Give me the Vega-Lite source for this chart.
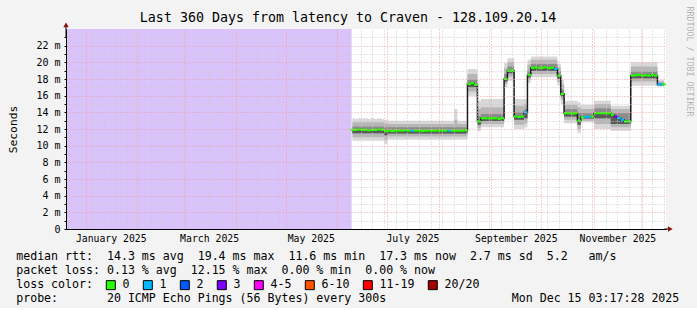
{
  "$schema": "https://vega.github.io/schema/vega-lite/v6.json",
  "width": 600,
  "height": 200,
  "padding": {"left": 7, "top": 5, "right": 3, "bottom": 3},
  "background": "#f3f3f3",
  "config": {"view": {"fill": "#ffffff", "stroke": null}, "font": "DejaVu Sans Mono"},
  "title": {"text": "Last 360 Days from latency to Craven - 128.109.20.14", "font": "DejaVu Sans Mono", "fontSize": 13.3, "fontWeight": "normal", "color": "#000000", "anchor": "middle", "frame": "group", "dx": -18, "offset": -18.5},
  "datasets": {
    "unknown": [{"start": "2024-12-20T03:17:28Z", "end": "2025-06-09T12:00:00Z"}],
    "smoke": [
      {"t": "2025-06-10", "m": 11.9, "l3": 10.6, "l2": 11.0, "l1": 11.5, "h1": 12.3, "h2": 12.8, "h3": 13.3, "loss": "0"},
      {"t": "2025-06-12", "m": 11.9, "l3": 10.6, "l2": 11.0, "l1": 11.5, "h1": 12.3, "h2": 12.8, "h3": 13.2, "loss": "0"},
      {"t": "2025-06-14", "m": 11.95, "l3": 10.6, "l2": 11.0, "l1": 11.5, "h1": 12.3, "h2": 12.8, "h3": 13.3, "loss": "0"},
      {"t": "2025-06-16", "m": 11.9, "l3": 10.6, "l2": 11.0, "l1": 11.5, "h1": 12.3, "h2": 12.8, "h3": 13.25, "loss": "0"},
      {"t": "2025-06-18", "m": 11.9, "l3": 10.6, "l2": 11.0, "l1": 11.5, "h1": 12.3, "h2": 12.8, "h3": 13.3, "loss": "0"},
      {"t": "2025-06-20", "m": 11.85, "l3": 10.6, "l2": 11.0, "l1": 11.5, "h1": 12.3, "h2": 12.8, "h3": 13.2, "loss": "0"},
      {"t": "2025-06-22", "m": 11.9, "l3": 10.6, "l2": 11.0, "l1": 11.5, "h1": 12.3, "h2": 12.8, "h3": 13.3, "loss": "0"},
      {"t": "2025-06-24", "m": 11.9, "l3": 10.6, "l2": 11.0, "l1": 11.5, "h1": 12.3, "h2": 12.8, "h3": 13.2, "loss": "0"},
      {"t": "2025-06-26", "m": 11.95, "l3": 10.6, "l2": 11.0, "l1": 11.5, "h1": 12.3, "h2": 12.8, "h3": 13.3, "loss": "0"},
      {"t": "2025-06-28", "m": 11.9, "l3": 10.6, "l2": 11.0, "l1": 11.5, "h1": 12.3, "h2": 12.8, "h3": 13.2, "loss": "0"},
      {"t": "2025-06-30", "m": 11.75, "l3": 10.2, "l2": 10.7, "l1": 11.25, "h1": 12.2, "h2": 12.7, "h3": 13.1, "loss": "0"},
      {"t": "2025-07-02", "m": 11.8, "l3": 10.7, "l2": 11.1, "l1": 11.45, "h1": 12.2, "h2": 12.6, "h3": 13.0, "loss": "0"},
      {"t": "2025-07-04", "m": 11.75, "l3": 10.7, "l2": 11.1, "l1": 11.45, "h1": 12.2, "h2": 12.6, "h3": 13.0, "loss": "0"},
      {"t": "2025-07-06", "m": 11.8, "l3": 10.7, "l2": 11.1, "l1": 11.45, "h1": 12.2, "h2": 12.6, "h3": 13.0, "loss": "0"},
      {"t": "2025-07-08", "m": 11.8, "l3": 10.7, "l2": 11.1, "l1": 11.45, "h1": 12.2, "h2": 12.6, "h3": 13.0, "loss": "0"},
      {"t": "2025-07-10", "m": 11.8, "l3": 10.7, "l2": 11.1, "l1": 11.45, "h1": 12.2, "h2": 12.6, "h3": 13.0, "loss": "0"},
      {"t": "2025-07-12", "m": 11.85, "l3": 10.7, "l2": 11.1, "l1": 11.45, "h1": 12.2, "h2": 12.6, "h3": 13.0, "loss": "0"},
      {"t": "2025-07-14", "m": 11.8, "l3": 10.7, "l2": 11.1, "l1": 11.45, "h1": 12.2, "h2": 12.6, "h3": 13.0, "loss": "0"},
      {"t": "2025-07-16", "m": 11.8, "l3": 10.7, "l2": 11.1, "l1": 11.45, "h1": 12.2, "h2": 12.6, "h3": 13.0, "loss": "1"},
      {"t": "2025-07-18", "m": 11.8, "l3": 10.7, "l2": 11.1, "l1": 11.45, "h1": 12.2, "h2": 12.6, "h3": 13.0, "loss": "0"},
      {"t": "2025-07-20", "m": 11.8, "l3": 10.7, "l2": 11.1, "l1": 11.45, "h1": 12.2, "h2": 12.6, "h3": 13.0, "loss": "0"},
      {"t": "2025-07-22", "m": 11.75, "l3": 10.7, "l2": 11.1, "l1": 11.45, "h1": 12.2, "h2": 12.6, "h3": 13.0, "loss": "0"},
      {"t": "2025-07-24", "m": 11.8, "l3": 10.7, "l2": 11.1, "l1": 11.45, "h1": 12.2, "h2": 12.6, "h3": 13.0, "loss": "0"},
      {"t": "2025-07-26", "m": 11.8, "l3": 10.7, "l2": 11.1, "l1": 11.45, "h1": 12.2, "h2": 12.6, "h3": 13.0, "loss": "0"},
      {"t": "2025-07-28", "m": 11.8, "l3": 10.7, "l2": 11.1, "l1": 11.45, "h1": 12.2, "h2": 12.6, "h3": 13.0, "loss": "0"},
      {"t": "2025-07-30", "m": 11.8, "l3": 10.7, "l2": 11.1, "l1": 11.45, "h1": 12.2, "h2": 12.6, "h3": 13.0, "loss": "0"},
      {"t": "2025-08-01", "m": 11.8, "l3": 10.7, "l2": 11.1, "l1": 11.45, "h1": 12.2, "h2": 12.6, "h3": 13.0, "loss": "0"},
      {"t": "2025-08-03", "m": 11.8, "l3": 10.7, "l2": 11.1, "l1": 11.45, "h1": 12.2, "h2": 12.6, "h3": 13.0, "loss": "0"},
      {"t": "2025-08-05", "m": 11.8, "l3": 10.7, "l2": 11.1, "l1": 11.45, "h1": 12.2, "h2": 12.6, "h3": 13.0, "loss": "0"},
      {"t": "2025-08-07", "m": 11.8, "l3": 10.7, "l2": 11.1, "l1": 11.45, "h1": 12.2, "h2": 12.6, "h3": 13.0, "loss": "1"},
      {"t": "2025-08-09", "m": 11.8, "l3": 10.7, "l2": 11.1, "l1": 11.45, "h1": 12.2, "h2": 12.6, "h3": 13.0, "loss": "0"},
      {"t": "2025-08-11", "m": 11.8, "l3": 10.7, "l2": 11.1, "l1": 11.45, "h1": 12.2, "h2": 13.1, "h3": 14.4, "loss": "0"},
      {"t": "2025-08-13", "m": 11.8, "l3": 10.7, "l2": 11.1, "l1": 11.45, "h1": 12.2, "h2": 12.6, "h3": 13.0, "loss": "0"},
      {"t": "2025-08-15", "m": 11.8, "l3": 10.7, "l2": 11.1, "l1": 11.45, "h1": 12.2, "h2": 12.6, "h3": 13.0, "loss": "0"},
      {"t": "2025-08-17", "m": 11.85, "l3": 10.7, "l2": 11.1, "l1": 11.45, "h1": 12.2, "h2": 12.6, "h3": 13.0, "loss": "0"},
      {"t": "2025-08-19", "m": 17.4, "l3": 16.0, "l2": 16.5, "l1": 17.0, "h1": 17.9, "h2": 18.6, "h3": 19.2, "loss": "0"},
      {"t": "2025-08-21", "m": 17.5, "l3": 16.0, "l2": 16.5, "l1": 17.0, "h1": 17.9, "h2": 18.6, "h3": 19.2, "loss": "0"},
      {"t": "2025-08-23", "m": 17.3, "l3": 16.0, "l2": 16.5, "l1": 17.0, "h1": 17.9, "h2": 18.6, "h3": 19.2, "loss": "0"},
      {"t": "2025-08-25", "m": 12.9, "l3": 11.7, "l2": 12.1, "l1": 12.5, "h1": 13.5, "h2": 14.4, "h3": 15.4, "loss": "0"},
      {"t": "2025-08-27", "m": 13.3, "l3": 12.2, "l2": 12.6, "l1": 12.95, "h1": 13.8, "h2": 14.6, "h3": 15.6, "loss": "0"},
      {"t": "2025-08-29", "m": 13.3, "l3": 12.2, "l2": 12.6, "l1": 12.95, "h1": 13.8, "h2": 14.6, "h3": 15.6, "loss": "0"},
      {"t": "2025-08-31", "m": 13.25, "l3": 12.2, "l2": 12.6, "l1": 12.95, "h1": 13.8, "h2": 14.6, "h3": 15.6, "loss": "0"},
      {"t": "2025-09-02", "m": 13.3, "l3": 12.2, "l2": 12.6, "l1": 12.95, "h1": 13.8, "h2": 14.6, "h3": 15.6, "loss": "0"},
      {"t": "2025-09-04", "m": 13.3, "l3": 12.2, "l2": 12.6, "l1": 12.95, "h1": 13.8, "h2": 14.6, "h3": 15.6, "loss": "0"},
      {"t": "2025-09-06", "m": 13.2, "l3": 12.2, "l2": 12.6, "l1": 12.95, "h1": 13.8, "h2": 14.6, "h3": 15.6, "loss": "0"},
      {"t": "2025-09-08", "m": 13.3, "l3": 12.2, "l2": 12.6, "l1": 12.95, "h1": 13.8, "h2": 14.6, "h3": 15.6, "loss": "0"},
      {"t": "2025-09-10", "m": 18.0, "l3": 17.0, "l2": 17.4, "l1": 17.7, "h1": 18.6, "h2": 19.3, "h3": 19.9, "loss": "0"},
      {"t": "2025-09-12", "m": 19.0, "l3": 17.8, "l2": 18.3, "l1": 18.7, "h1": 19.5, "h2": 20.0, "h3": 20.5, "loss": "0"},
      {"t": "2025-09-14", "m": 19.0, "l3": 17.8, "l2": 18.3, "l1": 18.7, "h1": 19.5, "h2": 20.0, "h3": 20.5, "loss": "0"},
      {"t": "2025-09-16", "m": 13.5, "l3": 12.0, "l2": 12.5, "l1": 13.1, "h1": 14.0, "h2": 14.8, "h3": 15.6, "loss": "0"},
      {"t": "2025-09-18", "m": 13.45, "l3": 12.0, "l2": 12.5, "l1": 13.1, "h1": 14.0, "h2": 14.8, "h3": 15.6, "loss": "0"},
      {"t": "2025-09-20", "m": 13.5, "l3": 12.0, "l2": 12.5, "l1": 13.1, "h1": 14.0, "h2": 14.8, "h3": 15.6, "loss": "0"},
      {"t": "2025-09-22", "m": 14.0, "l3": 12.2, "l2": 12.7, "l1": 13.3, "h1": 14.4, "h2": 15.0, "h3": 15.6, "loss": "1"},
      {"t": "2025-09-24", "m": 18.5, "l3": 17.5, "l2": 17.9, "l1": 18.2, "h1": 19.0, "h2": 19.7, "h3": 20.3, "loss": "0"},
      {"t": "2025-09-26", "m": 19.35, "l3": 18.2, "l2": 18.6, "l1": 19.0, "h1": 19.8, "h2": 20.3, "h3": 20.7, "loss": "0"},
      {"t": "2025-09-28", "m": 19.4, "l3": 18.2, "l2": 18.6, "l1": 19.0, "h1": 19.8, "h2": 20.3, "h3": 20.7, "loss": "0"},
      {"t": "2025-09-30", "m": 19.3, "l3": 18.2, "l2": 18.6, "l1": 19.0, "h1": 19.8, "h2": 20.3, "h3": 20.7, "loss": "0"},
      {"t": "2025-10-02", "m": 19.35, "l3": 18.2, "l2": 18.6, "l1": 19.0, "h1": 19.8, "h2": 20.3, "h3": 20.7, "loss": "0"},
      {"t": "2025-10-04", "m": 19.4, "l3": 18.2, "l2": 18.6, "l1": 19.0, "h1": 19.8, "h2": 20.3, "h3": 20.7, "loss": "0"},
      {"t": "2025-10-06", "m": 19.3, "l3": 18.2, "l2": 18.6, "l1": 19.0, "h1": 19.8, "h2": 20.3, "h3": 20.7, "loss": "0"},
      {"t": "2025-10-08", "m": 19.35, "l3": 18.2, "l2": 18.6, "l1": 19.0, "h1": 19.8, "h2": 20.3, "h3": 20.7, "loss": "0"},
      {"t": "2025-10-10", "m": 19.2, "l3": 18.2, "l2": 18.6, "l1": 19.0, "h1": 19.8, "h2": 20.3, "h3": 20.7, "loss": "1"},
      {"t": "2025-10-12", "m": 18.4, "l3": 17.2, "l2": 17.6, "l1": 18.0, "h1": 18.9, "h2": 19.4, "h3": 19.8, "loss": "0"},
      {"t": "2025-10-14", "m": 16.2, "l3": 15.0, "l2": 15.5, "l1": 15.9, "h1": 16.7, "h2": 17.3, "h3": 17.9, "loss": "0"},
      {"t": "2025-10-16", "m": 13.9, "l3": 12.7, "l2": 13.1, "l1": 13.5, "h1": 14.4, "h2": 14.9, "h3": 15.4, "loss": "0"},
      {"t": "2025-10-18", "m": 13.9, "l3": 12.7, "l2": 13.1, "l1": 13.5, "h1": 14.4, "h2": 14.9, "h3": 15.4, "loss": "0"},
      {"t": "2025-10-20", "m": 13.85, "l3": 12.7, "l2": 13.1, "l1": 13.5, "h1": 14.4, "h2": 14.9, "h3": 15.4, "loss": "0"},
      {"t": "2025-10-22", "m": 13.9, "l3": 12.7, "l2": 13.1, "l1": 13.5, "h1": 14.4, "h2": 14.9, "h3": 15.4, "loss": "0"},
      {"t": "2025-10-24", "m": 13.0, "l3": 11.5, "l2": 12.0, "l1": 12.5, "h1": 13.9, "h2": 14.6, "h3": 15.2, "loss": "0"},
      {"t": "2025-10-26", "m": 13.4, "l3": 12.8, "l2": 13.0, "l1": 13.25, "h1": 13.9, "h2": 14.4, "h3": 14.9, "loss": "0"},
      {"t": "2025-10-28", "m": 13.45, "l3": 12.8, "l2": 13.0, "l1": 13.25, "h1": 13.9, "h2": 14.4, "h3": 14.9, "loss": "1"},
      {"t": "2025-10-30", "m": 13.45, "l3": 12.8, "l2": 13.0, "l1": 13.25, "h1": 13.9, "h2": 14.4, "h3": 14.9, "loss": "1"},
      {"t": "2025-11-01", "m": 13.5, "l3": 12.8, "l2": 13.0, "l1": 13.25, "h1": 13.9, "h2": 14.4, "h3": 14.9, "loss": "0"},
      {"t": "2025-11-03", "m": 13.9, "l3": 12.0, "l2": 12.6, "l1": 13.3, "h1": 14.5, "h2": 15.0, "h3": 15.4, "loss": "0"},
      {"t": "2025-11-05", "m": 13.9, "l3": 12.0, "l2": 12.6, "l1": 13.3, "h1": 14.5, "h2": 15.0, "h3": 15.4, "loss": "0"},
      {"t": "2025-11-07", "m": 13.9, "l3": 12.0, "l2": 12.6, "l1": 13.3, "h1": 14.5, "h2": 15.0, "h3": 15.4, "loss": "0"},
      {"t": "2025-11-09", "m": 13.9, "l3": 12.0, "l2": 12.6, "l1": 13.3, "h1": 14.5, "h2": 15.0, "h3": 15.4, "loss": "0"},
      {"t": "2025-11-11", "m": 13.9, "l3": 12.0, "l2": 12.6, "l1": 13.3, "h1": 14.5, "h2": 15.0, "h3": 15.4, "loss": "0"},
      {"t": "2025-11-13", "m": 13.7, "l3": 11.8, "l2": 12.2, "l1": 12.6, "h1": 13.9, "h2": 14.4, "h3": 14.8, "loss": "0"},
      {"t": "2025-11-15", "m": 13.5, "l3": 11.8, "l2": 12.2, "l1": 12.6, "h1": 13.9, "h2": 14.4, "h3": 14.8, "loss": "3"},
      {"t": "2025-11-17", "m": 13.3, "l3": 11.8, "l2": 12.2, "l1": 12.6, "h1": 13.9, "h2": 14.4, "h3": 14.8, "loss": "1"},
      {"t": "2025-11-19", "m": 13.1, "l3": 11.8, "l2": 12.2, "l1": 12.6, "h1": 13.9, "h2": 14.4, "h3": 14.8, "loss": "1"},
      {"t": "2025-11-21", "m": 12.9, "l3": 11.8, "l2": 12.2, "l1": 12.6, "h1": 13.9, "h2": 14.4, "h3": 14.8, "loss": "0"},
      {"t": "2025-11-23", "m": 12.9, "l3": 11.8, "l2": 12.2, "l1": 12.6, "h1": 13.9, "h2": 14.4, "h3": 14.8, "loss": "0"},
      {"t": "2025-11-25", "m": 18.4, "l3": 17.2, "l2": 17.7, "l1": 18.1, "h1": 18.9, "h2": 19.5, "h3": 20.0, "loss": "0"},
      {"t": "2025-11-27", "m": 18.45, "l3": 17.2, "l2": 17.7, "l1": 18.1, "h1": 18.9, "h2": 19.5, "h3": 20.0, "loss": "0"},
      {"t": "2025-11-29", "m": 18.5, "l3": 17.2, "l2": 17.7, "l1": 18.1, "h1": 18.9, "h2": 19.5, "h3": 20.0, "loss": "0"},
      {"t": "2025-12-01", "m": 18.4, "l3": 17.2, "l2": 17.7, "l1": 18.1, "h1": 18.9, "h2": 19.5, "h3": 20.0, "loss": "0"},
      {"t": "2025-12-03", "m": 18.45, "l3": 17.2, "l2": 17.7, "l1": 18.1, "h1": 18.9, "h2": 19.5, "h3": 20.0, "loss": "0"},
      {"t": "2025-12-05", "m": 18.4, "l3": 17.2, "l2": 17.7, "l1": 18.1, "h1": 18.9, "h2": 19.5, "h3": 20.0, "loss": "0"},
      {"t": "2025-12-07", "m": 18.5, "l3": 17.2, "l2": 17.7, "l1": 18.1, "h1": 18.9, "h2": 19.5, "h3": 20.0, "loss": "0"},
      {"t": "2025-12-09", "m": 18.4, "l3": 17.2, "l2": 17.7, "l1": 18.1, "h1": 18.9, "h2": 19.5, "h3": 20.0, "loss": "0"},
      {"t": "2025-12-11", "m": 17.35, "l3": 17.1, "l2": 17.2, "l1": 17.3, "h1": 17.5, "h2": 17.7, "h3": 17.9, "loss": "1"},
      {"t": "2025-12-13", "m": 17.35, "l3": 17.1, "l2": 17.2, "l1": 17.3, "h1": 17.5, "h2": 17.7, "h3": 17.9, "loss": "1"},
      {"t": "2025-12-14", "m": 17.35, "l3": 17.1, "l2": 17.2, "l1": 17.3, "h1": 17.5, "h2": 17.7, "h3": 17.9, "loss": "0"}
    ]
  },
  "resolve": {"axis": {"x": "independent", "y": "independent"}},
  "layer": [
    {
      "data": {"name": "unknown"},
      "mark": {"type": "rect", "color": "#d9c3fa"},
      "encoding": {
        "x": {"field": "start", "type": "temporal",
          "scale": {"type": "utc", "nice": false, "domain": [{"year": 2024, "month": 12, "date": 20, "hours": 3, "minutes": 17, "seconds": 28, "utc": true}, {"year": 2025, "month": 12, "date": 15, "hours": 3, "minutes": 17, "seconds": 28, "utc": true}]},
          "axis": {"orient": "bottom", "tickCount": {"interval": "week", "step": 1}, "grid": true, "gridColor": "#c8c8c8", "gridDash": [1, 2], "labels": false, "ticks": false, "domain": false, "title": null, "zindex": 1}},
        "x2": {"field": "end"}
      }
    },
    {
      "data": {"name": "smoke"},
      "mark": {"type": "area", "interpolate": "step", "color": "#d8d8d8"},
      "encoding": {
        "x": {"field": "t", "type": "temporal",
          "axis": {"orient": "bottom", "tickCount": {"interval": "month", "step": 1}, "grid": true, "gridColor": "#f0a0a0", "gridDash": [1, 2], "labels": false, "ticks": false, "domain": false, "title": null, "zindex": 1}},
        "y": {"field": "h3", "type": "quantitative", "scale": {"domain": [0, 24], "nice": false, "zero": false},
          "axis": {"orient": "left", "values": [0, 1, 2, 3, 4, 5, 6, 7, 8, 9, 10, 11, 12, 13, 14, 15, 16, 17, 18, 19, 20, 21, 22, 23],
            "labelExpr": "datum.value == 0 ? '0\u00a0\u00a0' : (datum.value % 2 == 0 ? datum.value + ' m' : '')",
            "grid": true,
            "gridColor": {"condition": {"test": "datum.value % 2 == 0", "value": "#f0a0a0"}, "value": "#c8c8c8"},
            "gridOpacity": {"condition": {"test": "datum.value == 0", "value": 0}, "value": 1},
            "gridDash": [1, 2], "domainColor": "#000000", "tickColor": "#000000", "tickSize": 2,
            "labelFont": "DejaVu Sans Mono", "labelFontSize": 10, "labelColor": "#000000", "labelPadding": 4,
            "title": "Seconds", "titleFont": "DejaVu Sans Mono", "titleFontSize": 11.3, "titleFontWeight": "normal", "titleColor": "#000000", "titlePadding": 17, "zindex": 1}},
        "y2": {"field": "l3"}
      }
    },
    {
      "data": {"name": "smoke"},
      "mark": {"type": "area", "interpolate": "step", "color": "#b6b6b6"},
      "encoding": {
        "x": {"field": "t", "type": "temporal", "axis": null},
        "y": {"field": "h2", "type": "quantitative", "axis": null},
        "y2": {"field": "l2"}
      }
    },
    {
      "data": {"name": "smoke"},
      "mark": {"type": "area", "interpolate": "step", "color": "#8c8c8c"},
      "encoding": {
        "x": {"field": "t", "type": "temporal", "axis": null},
        "y": {"field": "h1", "type": "quantitative", "axis": null},
        "y2": {"field": "l1"}
      }
    },
    {
      "data": {"name": "smoke"},
      "mark": {"type": "area", "interpolate": "step", "color": "#5a5a5a"},
      "encoding": {
        "x": {"field": "t", "type": "temporal", "axis": null},
        "y": {"field": "m", "type": "quantitative", "axis": null},
        "y2": {"field": "l1"}
      }
    },
    {
      "data": {"name": "smoke"},
      "mark": {"type": "line", "interpolate": "step", "color": "#1c1c1c", "strokeWidth": 1.5},
      "encoding": {
        "x": {"field": "t", "type": "temporal",
          "axis": {"orient": "bottom",
            "values": [{"year": 2025, "month": 1, "date": 16, "utc": true}, {"year": 2025, "month": 3, "date": 16, "utc": true}, {"year": 2025, "month": 5, "date": 16, "utc": true}, {"year": 2025, "month": 7, "date": 16, "utc": true}, {"year": 2025, "month": 9, "date": 16, "utc": true}, {"year": 2025, "month": 11, "date": 16, "utc": true}],
            "format": "%B %Y", "grid": false, "ticks": false, "tickSize": 0, "domainColor": "#000000",
            "labelFont": "DejaVu Sans Mono", "labelFontSize": 9.8, "labelColor": "#000000", "labelPadding": 4, "labelFlush": false, "labelOverlap": false,
            "title": ["median\u00a0rtt:\u00a0\u00a014.3\u00a0ms\u00a0avg\u00a0\u00a019.4\u00a0ms\u00a0max\u00a0\u00a011.6\u00a0ms\u00a0min\u00a0\u00a017.3\u00a0ms\u00a0now\u00a0\u00a02.7\u00a0ms\u00a0sd\u00a0\u00a05.2\u00a0\u00a0\u00a0am/s", "packet\u00a0loss:\u00a00.13\u00a0%\u00a0avg\u00a0\u00a012.15\u00a0%\u00a0max\u00a0\u00a00.00\u00a0%\u00a0min\u00a0\u00a00.00\u00a0%\u00a0now", "loss\u00a0color:", "probe:\u00a0\u00a0\u00a0\u00a0\u00a0\u00a0\u00a020\u00a0ICMP\u00a0Echo\u00a0Pings\u00a0(56\u00a0Bytes)\u00a0every\u00a0300s\u00a0\u00a0\u00a0\u00a0\u00a0\u00a0\u00a0\u00a0\u00a0\u00a0\u00a0\u00a0\u00a0\u00a0\u00a0\u00a0\u00a0\u00a0Mon\u00a0Dec\u00a015\u00a003:17:28\u00a02025"],
            "titleFont": "DejaVu Sans Mono", "titleFontSize": 11.6, "titleFontWeight": "normal", "titleColor": "#000000", "titleAlign": "left", "titleBaseline": "alphabetic", "titleAnchor": "start", "titleX": -50.3, "titleY": 30.9, "titleLineHeight": 14, "zindex": 1}},
        "y": {"field": "m", "type": "quantitative", "axis": null}
      }
    },
    {
      "data": {"name": "smoke"},
      "mark": {"type": "tick", "orient": "horizontal", "size": 3.6, "thickness": 2.2, "opacity": 1},
      "encoding": {
        "x": {"field": "t", "type": "temporal", "axis": null},
        "y": {"field": "m", "type": "quantitative",
          "axis": {"orient": "right", "labels": false, "ticks": false, "domain": false, "grid": false,
            "title": "RRDTOOL / TOBI OETIKER", "titleAngle": 90, "titleColor": "#b4b4b4", "titleFont": "DejaVu Sans Mono", "titleFontSize": 8.3, "titleFontWeight": "normal", "titleAlign": "left", "titleBaseline": "middle", "titleX": 22.7, "titleY": -23}},
        "color": {"field": "loss", "type": "nominal",
          "scale": {"domain": ["0", "1", "2", "3", "4-5", "6-10", "11-19", "20/20"], "range": ["#26ff00", "#00b8ff", "#0059ff", "#7e00ff", "#ff00ff", "#ff5500", "#ff0000", "#a00000"]},
          "legend": {"title": null, "orient": "none", "legendX": 39, "legendY": 250, "direction": "horizontal",
            "symbolType": "square", "symbolSize": 81, "symbolStrokeColor": "#000000", "symbolStrokeWidth": 1, "symbolOpacity": 1,
            "labelFont": "DejaVu Sans Mono", "labelFontSize": 11.6, "labelColor": "#000000", "labelOffset": 6,
            "columnPadding": 11}}
      }
    },
    {
      "data": {"values": [{}]},
      "mark": {"type": "rule", "color": "#000000"},
      "encoding": {
        "x": {"datum": {"year": 2025, "month": 12, "date": 14, "utc": true}, "type": "temporal", "axis": null},
        "x2": {"datum": {"year": 2025, "month": 12, "date": 17, "hours": 12, "utc": true}},
        "y": {"datum": 0, "type": "quantitative", "axis": null}
      }
    },
    {
      "data": {"values": [{}]},
      "mark": {"type": "rule", "color": "#000000"},
      "encoding": {
        "x": {"datum": {"year": 2024, "month": 12, "date": 20, "hours": 3, "minutes": 17, "seconds": 28, "utc": true}, "type": "temporal", "axis": null},
        "y": {"datum": 23, "type": "quantitative", "axis": null},
        "y2": {"datum": 24.5}
      }
    },
    {
      "data": {"values": [{}]},
      "mark": {"type": "point", "shape": "triangle-right", "filled": true, "size": 30, "color": "#8b1010", "opacity": 1},
      "encoding": {
        "x": {"datum": {"year": 2025, "month": 12, "date": 17, "hours": 17, "utc": true}, "type": "temporal", "axis": null},
        "y": {"datum": 0, "type": "quantitative", "axis": null}
      }
    },
    {
      "data": {"values": [{}]},
      "mark": {"type": "point", "shape": "triangle-up", "filled": true, "size": 30, "color": "#8b1010", "opacity": 1},
      "encoding": {
        "x": {"datum": {"year": 2024, "month": 12, "date": 20, "hours": 3, "minutes": 17, "seconds": 28, "utc": true}, "type": "temporal", "axis": null},
        "y": {"datum": 24.5, "type": "quantitative", "axis": null}
      }
    }
  ]
}
